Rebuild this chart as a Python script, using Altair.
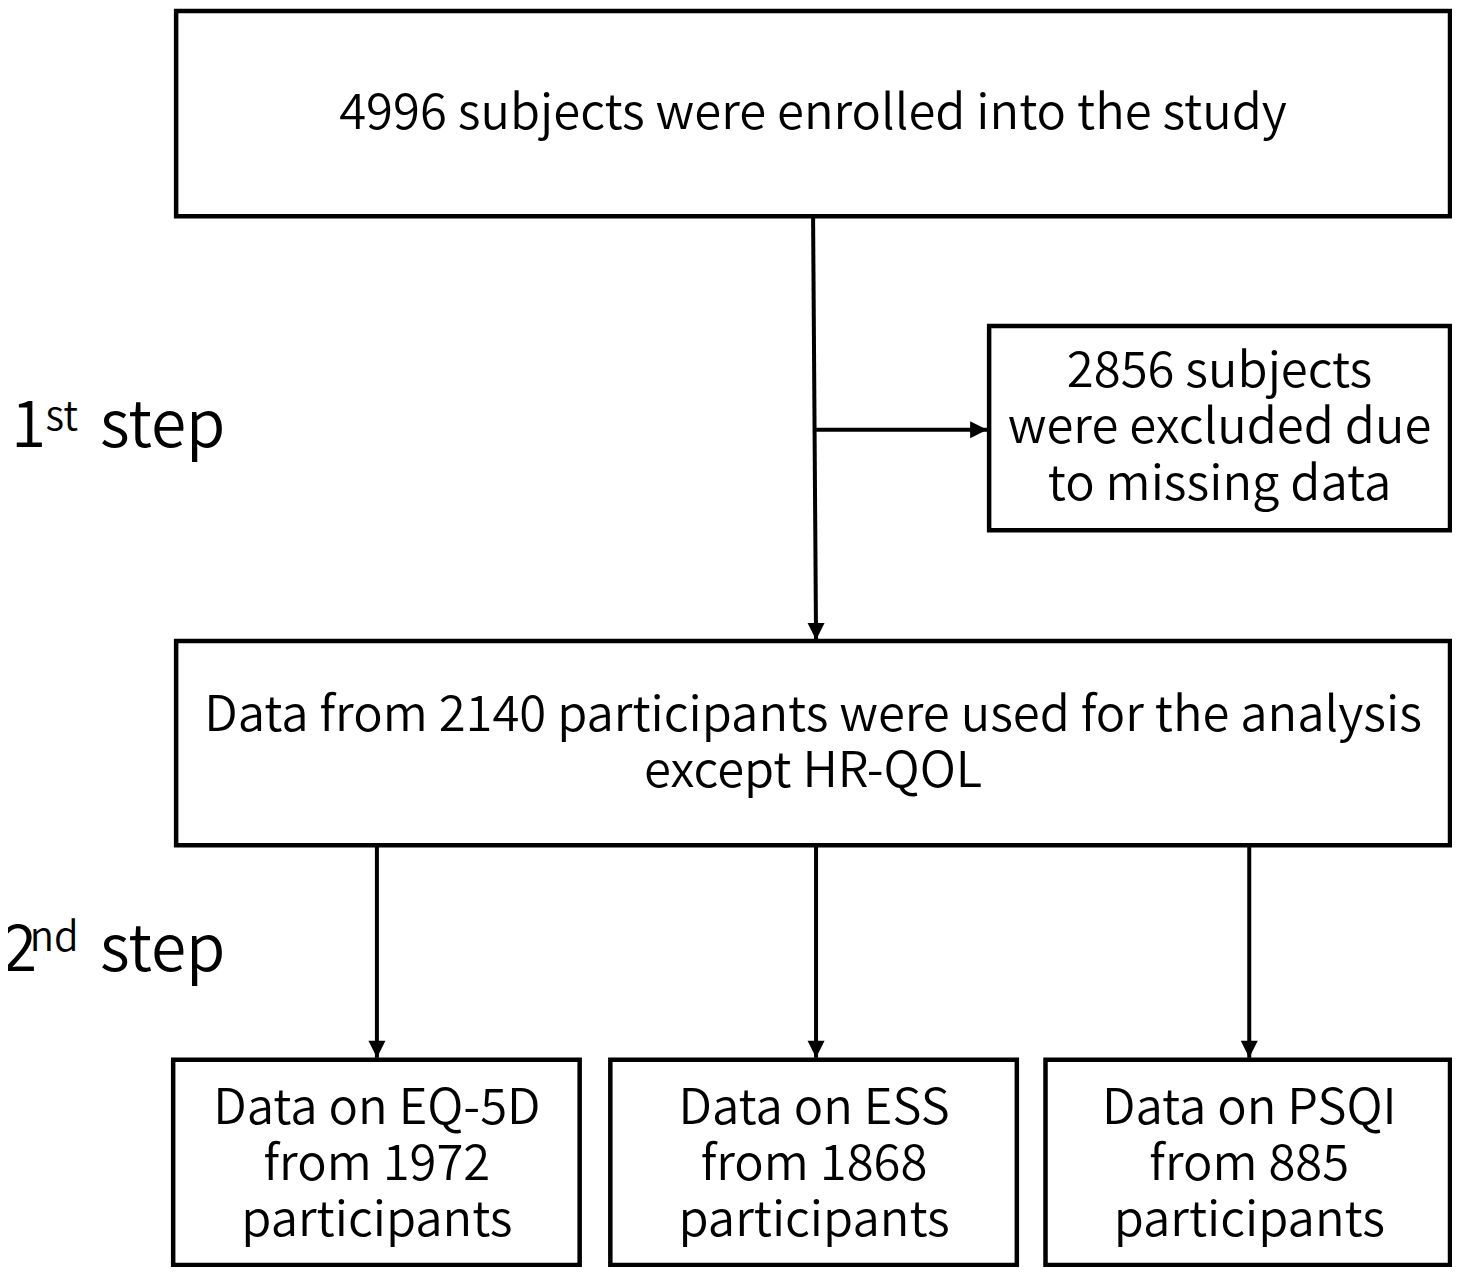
import altair as alt
import pandas as pd

FONT = "'Noto Sans CJK JP DemiLight', 'Noto Sans CJK JP'"

# ---- content ----
box_texts = [
    ["4996 subjects were enrolled into the study"],
    ["2856 subjects", "were excluded due", "to missing data"],
    ["Data from 2140 participants were used for the analysis", "except HR-QOL"],
    ["Data on EQ-5D", "from 1972", "participants"],
    ["Data on ESS", "from 1868", "participants"],
    ["Data on PSQI", "from 885", "participants"],
]
step_main = ["1", "2"]
step_sup = ["st", "nd"]
step_word = ["step", "step"]

# ---- layout (pixel coordinates of the reference) ----
box_x1 = [170, 992, 170, 167, 609, 1049]
box_x2 = [1458, 1458, 1458, 578, 1020, 1458]
box_y1 = [3, 322, 641, 1065, 1065, 1065]
box_y2 = [211, 529, 848, 1273, 1273, 1273]
text_cx = [814, 1225, 814, 373, 815, 1255]
text_base0 = [123, 384, 732, 1130, 1130, 1130]
line_gap = 57

arrow_x1 = [814, 816, 373, 817, 1255]
arrow_y1 = [211, 427, 848, 848, 848]
arrow_x2 = [817, 990, 373, 817, 1255]
arrow_y2 = [640, 427, 1063, 1063, 1063]
arrow_dir = ["down", "right", "down", "down", "down"]

step_x = [3, -6]
step_sup_x = [38, 22]
step_word_x = [93, 93]
step_base = [445, 975]
step_sup_base = [427, 955]

# ---- tables ----
boxes = pd.DataFrame({"x": box_x1, "x2": box_x2, "y": box_y1, "y2": box_y2})
rows = []
for i, lines in enumerate(box_texts):
    for j, t in enumerate(lines):
        rows.append({"x": text_cx[i], "y": text_base0[i] + j * line_gap, "t": t})
texts = pd.DataFrame(rows)
arrows = pd.DataFrame({"x": arrow_x1, "y": arrow_y1, "x2": arrow_x2, "y2": arrow_y2, "d": arrow_dir})
steps_main = pd.DataFrame({"x": step_x, "y": step_base, "t": step_main})
steps_sup = pd.DataFrame({"x": step_sup_x, "y": step_sup_base, "t": step_sup})
steps_word = pd.DataFrame({"x": step_word_x, "y": step_base, "t": step_word})

W, H = 1444, 1259
xs = alt.Scale(domain=[0, 1460], range=[0, W], nice=False, zero=False)
ys = alt.Scale(domain=[0, 1275], range=[0, H], nice=False, zero=False)
X = lambda f: alt.X(f, type="quantitative", scale=xs, axis=None)
Y = lambda f: alt.Y(f, type="quantitative", scale=ys, axis=None)

rect = alt.Chart(boxes).mark_rect(fill="white", stroke="black", strokeWidth=4.5).encode(
    x=X("x"), x2="x2", y=Y("y"), y2="y2")

lines = alt.Chart(arrows).mark_rule(color="black", strokeWidth=4).encode(
    x=X("x"), x2="x2", y=Y("y"), y2="y2")

heads_down = alt.Chart(arrows).transform_filter(alt.datum.d == "down").mark_point(
    shape="M-1,-2L1,-2L0,0Z", filled=True, color="black", size=289, opacity=1,
    strokeWidth=0).encode(x=X("x2"), y=Y("y2"))
heads_right = alt.Chart(arrows).transform_filter(alt.datum.d == "right").mark_point(
    shape="M-2,-1L-2,1L0,0Z", filled=True, color="black", size=289, opacity=1,
    strokeWidth=0).encode(x=X("x2"), y=Y("y2"))

txt = alt.Chart(texts).mark_text(font=FONT, fontSize=49, fontWeight=300, color="black",
                                 align="center", baseline="alphabetic").encode(
    x=X("x"), y=Y("y"), text="t:N")

s1 = alt.Chart(steps_main).mark_text(font=FONT, fontSize=64, fontWeight=300, color="black",
                                     align="left", baseline="alphabetic").encode(
    x=X("x"), y=Y("y"), text="t:N")
s2 = alt.Chart(steps_sup).mark_text(font=FONT, fontSize=40, fontWeight=300, color="black",
                                    align="left", baseline="alphabetic").encode(
    x=X("x"), y=Y("y"), text="t:N")
s3 = alt.Chart(steps_word).mark_text(font=FONT, fontSize=64, fontWeight=300, color="black",
                                     align="left", baseline="alphabetic").encode(
    x=X("x"), y=Y("y"), text="t:N")

chart = alt.layer(lines, rect, heads_down, heads_right, txt, s1, s2, s3).properties(
    width=W, height=H, padding=0, autosize=alt.AutoSizeParams(type="none"),
    background="white"
).configure_view(stroke=None)

chart.save("out.html", embed_options={"renderer": "svg", "actions": False})
